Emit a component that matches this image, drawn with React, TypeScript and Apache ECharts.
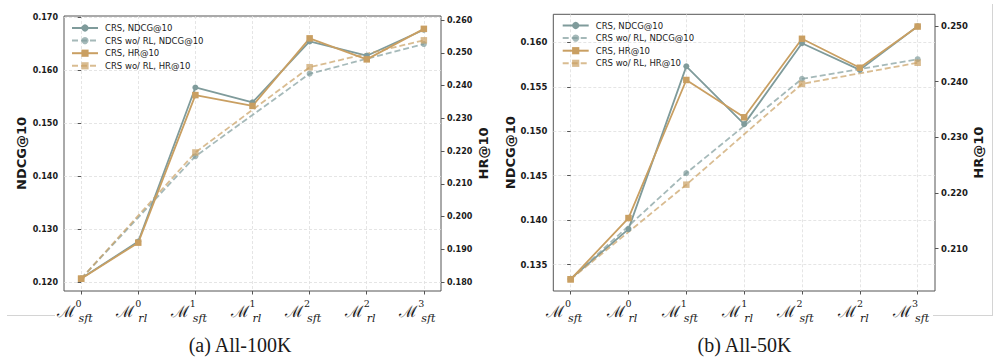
import React, { useEffect, useRef } from 'react';
import * as echarts from 'echarts';

// ---------- data ----------
const xPos = [0, 1, 2, 3, 4, 5, 6];
const sftPos = [0, 2, 4, 6];
const xSup = ['0', '0', '1', '1', '2', '2', '3'];
const xSub = ['sft', 'rl', 'sft', 'rl', 'sft', 'rl', 'sft'];

const seriesNames = ['CRS, NDCG@10', 'CRS wo/ RL, NDCG@10', 'CRS, HR@10', 'CRS wo/ RL, HR@10'];

// (a) All-100K
const ndcg100 = [0.1207, 0.1277, 0.1568, 0.154, 0.1655, 0.1628, 0.1677];
const ndcgNoRl100 = [0.1207, 0.1438, 0.1594, 0.165];
const hr100 = [0.1811, 0.1921, 0.2371, 0.2338, 0.2544, 0.248, 0.2573];
const hrNoRl100 = [0.1811, 0.2196, 0.2456, 0.2538];
const ticksNdcg100 = [0.12, 0.13, 0.14, 0.15, 0.16, 0.17];
const ticksHr100 = [0.18, 0.19, 0.2, 0.21, 0.22, 0.23, 0.24, 0.25, 0.26];

// (b) All-50K
const ndcg50 = [0.1334, 0.139, 0.1573, 0.1508, 0.1599, 0.1569, 0.1618];
const ndcgNoRl50 = [0.1334, 0.1453, 0.1559, 0.1581];
const hr50 = [0.2045, 0.2155, 0.2403, 0.2336, 0.2477, 0.2425, 0.2499];
const hrNoRl50 = [0.2045, 0.2215, 0.2396, 0.2434];
const ticksNdcg50 = [0.135, 0.14, 0.145, 0.15, 0.155, 0.16];
const ticksHr50 = [0.21, 0.22, 0.23, 0.24, 0.25];

const captions = ['(a) All-100K', '(b) All-50K'];

// ---------- style ----------
const GRAY = '#7f9b9b';
const TAN = '#c99f62';
const FRAME = '#555555';
const TXT = '#1a1a1a';

const panels = [
  {
    grid: { left: 64, right: 996 - 441, top: 16, bottom: 359 - 291 },
    ndcgRange: [0.11836, 0.1703], hrRange: [0.17735, 0.26122],
    ndcg: ndcg100, ndcgNoRl: ndcgNoRl100, hr: hr100, hrNoRl: hrNoRl100,
    ticksNdcg: ticksNdcg100, ticksHr: ticksHr100,
    legend: { left: 71, top: 23.5 }, tickFont: 8, caption: { x: 240, y: 345 },
  },
  {
    grid: { left: 553.3, right: 996 - 935, top: 14.3, bottom: 359 - 291 },
    ndcgRange: [0.13204, 0.16315], hrRange: [0.2024, 0.2521],
    ndcg: ndcg50, ndcgNoRl: ndcgNoRl50, hr: hr50, hrNoRl: hrNoRl50,
    ticksNdcg: ticksNdcg50, ticksHr: ticksHr50,
    legend: { left: 561.7, top: 21 }, tickFont: 8.5, caption: { x: 744.5, y: 345 },
  },
];

function buildOption() {
  const grid: any[] = [];
  const xAxis: any[] = [];
  const yAxis: any[] = [];
  const series: any[] = [];
  const legend: any[] = [];
  const graphic: any[] = [];

  panels.forEach((p, i) => {
    grid.push({ ...p.grid, show: true, borderColor: FRAME, borderWidth: 1, backgroundColor: 'transparent' });
    xAxis.push({
      type: 'value', gridIndex: i, min: -0.3, max: 6.3,
      axisLine: { show: false },
      axisTick: { show: true, customValues: xPos, length: 3.5, lineStyle: { color: FRAME, width: 1 } },
      splitLine: { show: true, lineStyle: { color: '#dedede', type: [3, 2], width: 0.8 } },
      axisLabel: {
        customValues: xPos, margin: 7,
        formatter: (v: number) => {
          const k = Math.round(v);
          return `{m|\u2133}{gap|}{sup|${xSup[k]}}{sub|${xSub[k]}}{pad|}`;
        },
        rich: {
          m: { fontFamily: 'DejaVu Serif', fontSize: 16, color: TXT, lineHeight: 26, verticalAlign: 'middle' },
          gap: { width: 4 },
          sup: { fontFamily: 'DejaVu Serif', fontSize: 9.5, color: TXT, lineHeight: 12, width: 0, verticalAlign: 'top' },
          sub: { fontFamily: 'DejaVu Serif', fontStyle: 'italic', fontSize: 11, color: TXT, lineHeight: 12, verticalAlign: 'bottom' },
          pad: { width: 13 },
        },
      },
    });
    const yCommon = (range: number[], ticks: number[], pos: string, name: string, split: boolean) => ({
      type: 'value', gridIndex: i, position: pos, min: range[0], max: range[1],
      name, nameLocation: 'middle', nameRotate: 90, nameGap: 36,
      nameTextStyle: { fontFamily: 'DejaVu Sans', fontWeight: 'bold', fontSize: 13, color: TXT },
      axisLine: { show: false },
      axisTick: { show: true, customValues: ticks, length: 3.5, lineStyle: { color: FRAME, width: 1 } },
      axisLabel: {
        customValues: ticks, margin: 6, formatter: (v: number) => v.toFixed(3),
        fontFamily: 'DejaVu Sans', fontWeight: 'bold', fontSize: p.tickFont, color: TXT,
      },
      splitLine: { show: split, lineStyle: { color: '#dedede', type: [3, 2], width: 0.8 } },
    });
    yAxis.push(yCommon(p.ndcgRange, p.ticksNdcg, 'left', 'NDCG@10', true));
    yAxis.push(yCommon(p.hrRange, p.ticksHr, 'right', 'HR@10', false));

    const mk = (name: string, data: number[], xs: number[], yIdx: number, color: string, symbol: string, size: number, dashed: boolean) => ({
      type: 'line', name, xAxisIndex: i, yAxisIndex: yIdx,
      data: xs.map((x, k) => [x, data[k]]),
      symbol, symbolSize: size, showSymbol: true,
      lineStyle: { color, width: 1.8, type: dashed ? [6, 3] : 'solid', opacity: dashed ? 0.7 : 1 },
      itemStyle: { color, opacity: dashed ? 0.7 : 1 },
      emphasis: { disabled: true },
    });
    series.push(mk(seriesNames[0], p.ndcg, xPos, 2 * i, GRAY, 'circle', 6, false));
    series.push(mk(seriesNames[1], p.ndcgNoRl, sftPos, 2 * i, GRAY, 'circle', 6, true));
    series.push(mk(seriesNames[2], p.hr, xPos, 2 * i + 1, TAN, 'rect', 6.5, false));
    series.push(mk(seriesNames[3], p.hrNoRl, sftPos, 2 * i + 1, TAN, 'rect', 6.5, true));

    legend.push({
      data: seriesNames, orient: 'vertical', left: p.legend.left, top: p.legend.top, padding: 0,
      itemWidth: 26, itemHeight: 9, itemGap: 3.6, selectedMode: false,
      textStyle: { fontFamily: 'DejaVu Sans', fontSize: 8.5, color: TXT, padding: [0, 0, 0, 2] },
    });

    graphic.push({
      type: 'text', x: p.caption.x, y: p.caption.y,
      style: { text: captions[i], font: '20px "Liberation Serif"', fill: TXT, textAlign: 'center', textVerticalAlign: 'middle' },
    });
  });

  // faint page border pieces
  graphic.push({ type: 'line', shape: { x1: 7, y1: 315.5, x2: 55, y2: 315.5 }, style: { stroke: '#d4d4d4', lineWidth: 1 } });
  graphic.push({ type: 'line', shape: { x1: 992.5, y1: 4, x2: 992.5, y2: 315.5 }, style: { stroke: '#d4d4d4', lineWidth: 1 } });
  graphic.push({ type: 'line', shape: { x1: 933, y1: 315.5, x2: 993, y2: 315.5 }, style: { stroke: '#d4d4d4', lineWidth: 1 } });

  return {
    animation: false,
    backgroundColor: '#ffffff',
    grid, xAxis, yAxis, series, legend, graphic,
  };
}

export default function App() {
  const ref = useRef<HTMLDivElement>(null);
  useEffect(() => {
    if (!ref.current) return;
    const chart = echarts.init(ref.current, undefined, { renderer: 'svg' });
    chart.setOption(buildOption() as any);
    return () => chart.dispose();
  }, []);
  return <div ref={ref} style={{ position: 'fixed', left: 0, top: 0, width: 996, height: 359, background: '#fff' }} />;
}
